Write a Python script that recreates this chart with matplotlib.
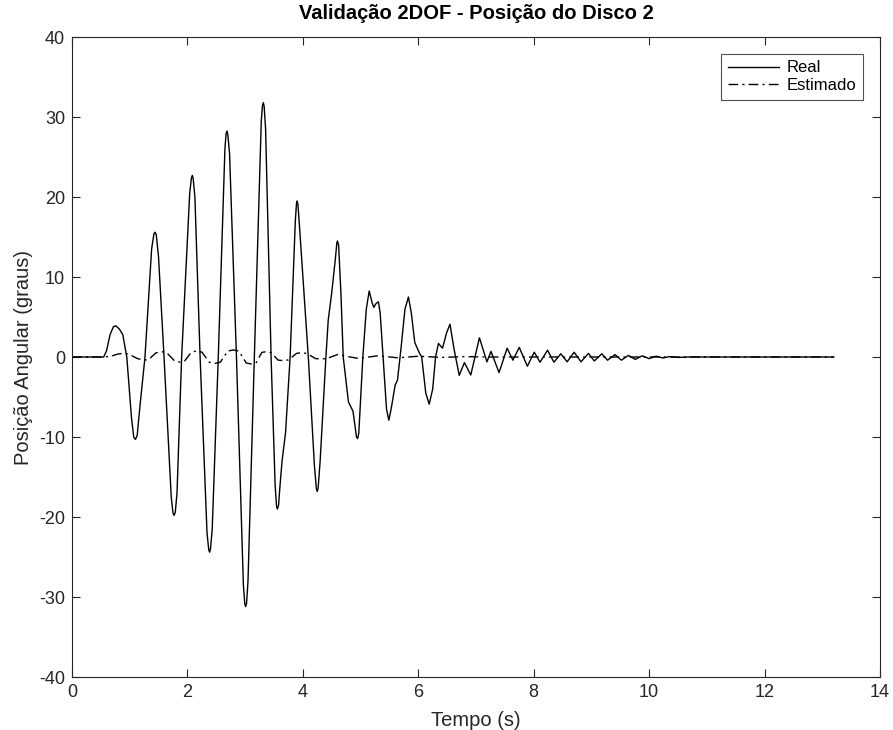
import matplotlib
matplotlib.use("Agg")
import matplotlib.pyplot as plt

plt.rcParams["font.family"] = ["Liberation Sans", "DejaVu Sans"]
plt.rcParams["axes.unicode_minus"] = False

# Real response, time in s, angle in degrees
t_real = [
    0.00, 0.55, 0.60, 0.66, 0.72, 0.76, 0.82, 0.88, 0.92, 0.95,
    1.03, 1.07, 1.10, 1.13, 1.18, 1.265, 1.38, 1.42, 1.44, 1.46,
    1.50, 1.595, 1.72, 1.75, 1.77, 1.79, 1.82, 1.90, 2.04, 2.07,
    2.085, 2.10, 2.13, 2.22, 2.34, 2.37, 2.385, 2.40, 2.43, 2.535,
    2.65, 2.67, 2.686, 2.70, 2.73, 2.85, 2.97, 2.995, 3.01, 3.025,
    3.05, 3.16, 3.28, 3.30, 3.316, 3.33, 3.355, 3.45, 3.52, 3.545,
    3.56, 3.58, 3.60, 3.64, 3.70, 3.78, 3.87, 3.89, 3.90, 3.915,
    3.95, 4.095, 4.20, 4.235, 4.25, 4.265, 4.30, 4.40, 4.44, 4.50,
    4.56, 4.59, 4.60, 4.62, 4.66, 4.70, 4.79, 4.87, 4.93, 4.95,
    4.97, 5.04, 5.10, 5.15, 5.20, 5.23, 5.27, 5.31, 5.34, 5.39,
    5.45, 5.49, 5.53, 5.60, 5.64, 5.70, 5.77, 5.83, 5.88, 5.94,
    5.97, 6.02, 6.06, 6.13, 6.19, 6.25, 6.30, 6.35, 6.42, 6.49,
    6.55, 6.62, 6.71, 6.80, 6.91, 7.06, 7.19, 7.26, 7.40, 7.54,
    7.64, 7.75, 7.89, 8.01, 8.11, 8.24, 8.35, 8.47, 8.58, 8.70,
    8.82, 8.95, 9.05, 9.18, 9.28, 9.41, 9.52, 9.64, 9.76, 9.88,
    10.00, 10.12, 10.24, 10.36, 10.50, 10.70, 13.20,
]
y_real = [
    0.0, 0.0, 0.8, 2.8, 3.8, 3.9, 3.5, 2.8, 1.2, 0.0,
    -7.5, -10.0, -10.3, -9.8, -6.0, 0.0, 13.5, 15.4, 15.6, 15.3,
    12.5, 0.0, -17.5, -19.5, -19.8, -19.4, -17.0, 0.0, 20.5, 22.4,
    22.7, 22.3, 20.0, 0.0, -22.0, -24.1, -24.4, -24.0, -21.5, 0.0,
    26.0, 27.9, 28.25, 27.8, 25.5, 0.0, -28.5, -30.9, -31.2, -30.8,
    -28.0, 0.0, 29.5, 31.4, 31.8, 31.3, 28.5, 0.0, -16.0, -18.7,
    -19.0, -18.5, -16.5, -13.0, -9.5, 0.0, 17.0, 19.2, 19.5, 19.1,
    15.5, 0.0, -13.5, -16.5, -16.8, -16.4, -13.0, 0.0, 4.6, 8.0,
    12.0, 14.3, 14.5, 14.0, 8.0, 0.0, -5.6, -6.8, -10.0, -10.2,
    -9.5, 0.0, 6.0, 8.25, 6.8, 6.2, 6.7, 6.9, 5.5, 0.0,
    -6.5, -7.9, -6.5, -3.5, -2.9, 1.0, 6.0, 7.5, 5.5, 1.8,
    1.3, 0.5, 0.0, -4.5, -5.9, -4.0, 0.0, 1.7, 1.1, 3.0,
    4.1, 1.0, -2.3, -0.7, -2.25, 2.4, -0.6, 0.7, -1.95, 1.1,
    -0.4, 1.2, -1.15, 0.6, -0.65, 0.85, -0.65, 0.4, -0.6, 0.6,
    -0.6, 0.45, -0.5, 0.4, -0.4, 0.3, -0.4, 0.2, -0.3, 0.15,
    -0.2, 0.1, -0.12, 0.06, -0.05, 0.0, 0.0,
]

# Estimated response
t_est = [0.0, 0.57, 0.70, 0.80, 0.89, 0.98, 1.12, 1.20, 1.26, 1.33,
         1.45, 1.55, 1.64, 1.78, 1.87, 1.95, 2.07, 2.16, 2.25, 2.38,
         2.48, 2.57, 2.70, 2.80, 2.89, 3.02, 3.11, 3.19, 3.29, 3.37,
         3.45, 3.57, 3.66, 3.75, 3.89, 3.98, 4.07, 4.22, 4.32, 4.42,
         4.61, 4.78, 4.96, 5.30, 5.65, 6.00, 6.40, 6.80, 7.20, 13.20]
y_est = [0.0, 0.0, 0.15, 0.38, 0.46, 0.38, -0.15, -0.33, -0.38, -0.32,
         0.50, 0.67, 0.55, -0.50, -0.63, -0.52, 0.62, 0.75, 0.62, -0.65,
         -0.79, -0.65, 0.75, 0.88, 0.74, -0.75, -0.88, -0.72, 0.58, 0.67,
         0.55, -0.38, -0.46, -0.36, 0.45, 0.54, 0.44, -0.20, -0.25, -0.18,
         0.33, 0.05, -0.17, 0.15, -0.10, 0.10, -0.05, 0.05, 0.0, 0.0]

fig = plt.figure(figsize=(8.93, 7.30), dpi=100)
ax = fig.add_axes([0.0806, 0.0726, 0.9048, 0.8767])

ax.plot(t_real, y_real, color="black", lw=1.0, label="Real")
ax.plot(t_est, y_est, color="black", lw=1.0, linestyle=(0, (7, 3, 1.5, 3)),
        label="Estimado")

ax.set_xlim(0, 14)
ax.set_ylim(-40, 40)
ax.set_xticks(range(0, 15, 2))
ax.set_yticks(range(-40, 41, 10))

axcol = "#262626"
for s in ax.spines.values():
    s.set_color(axcol)
    s.set_linewidth(0.8)
ax.tick_params(direction="in", length=5.8, width=0.8, colors=axcol,
               labelsize=13, top=True, right=True, pad=5)

ax.set_xlabel("Tempo (s)", fontsize=14.5, color=axcol, labelpad=7)
ax.set_ylabel("Posição Angular (graus)", fontsize=14.5, color=axcol, labelpad=4)
ax.set_title("Validação 2DOF - Posição do Disco 2", fontsize=14.5,
             fontweight="bold", pad=13)

leg = ax.legend(loc="upper right", fontsize=12, frameon=True, fancybox=False,
                edgecolor=axcol, handlelength=3.1, borderaxespad=1.0,
                labelspacing=0.15, handletextpad=0.45, borderpad=0.4)
leg.get_frame().set_linewidth(0.8)

fig.savefig("out.png", dpi=100)
